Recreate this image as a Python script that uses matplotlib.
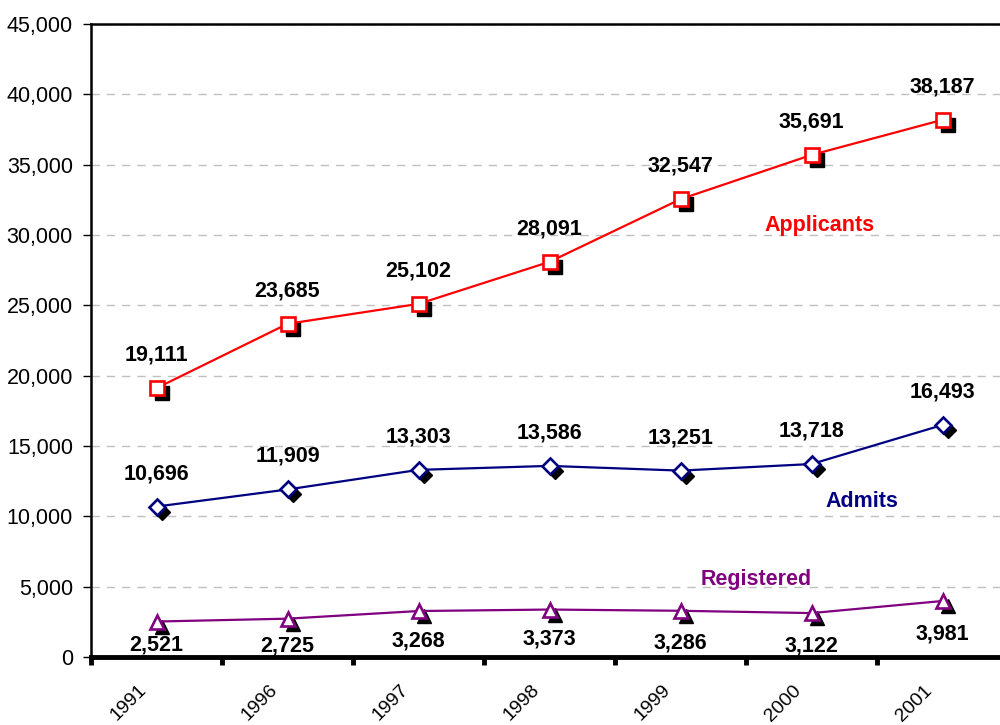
import numpy as np
import matplotlib
matplotlib.use('Agg')
import matplotlib.pyplot as plt
from matplotlib import transforms
from matplotlib.ticker import FuncFormatter, FixedLocator

plt.rcParams['font.family'] = ['Liberation Sans', 'DejaVu Sans']

# ---- data ----
years = ['1991', '1996', '1997', '1998', '1999', '2000', '2001']
applicants = [19111, 23685, 25102, 28091, 32547, 35691, 38187]
admits = [10696, 11909, 13303, 13586, 13251, 13718, 16493]
registered = [2521, 2725, 3268, 3373, 3286, 3122, 3981]

x = np.arange(len(years))
FS = 15.5

fig = plt.figure(figsize=(10, 7.25), dpi=100)
# plot area runs past the right edge, like the original
ax = fig.add_axes([0.091, 68 / 725, 0.917, 633 / 725])

shadow = transforms.offset_copy(ax.transData, fig=fig, x=5, y=-5, units='dots')

# label offsets in pixels (positive = above the point)
above = [33] * len(years)
below = [-23, -27, -30, -29, -32, -33, -33]

series = [
    (applicants, '#FF0000', 's', 10, above),
    (admits, '#000080', 'D', 8, above),
    (registered, '#800080', '^', 10, below),
]

for vals, col, mk, ms, offs in series:
    ax.plot(x, vals, ls='none', marker=mk, ms=ms, mfc='black', mec='black',
            transform=shadow, zorder=3, clip_on=False)
    ax.plot(x, vals, color=col, lw=1.6, marker=mk, ms=ms, mfc='white',
            mec=col, mew=1.9, zorder=4, clip_on=False)
    for xi, v, off in zip(x, vals, offs):
        ax.annotate(f'{v:,}', (xi, v), xytext=(0, off), textcoords='offset pixels',
                    ha='center', va='center', fontsize=FS, fontweight='bold',
                    zorder=5, annotation_clip=False)

# series names
ax.text(5.06, 30640, 'Applicants', color='#FF0000', fontsize=FS,
        fontweight='bold', ha='center', va='center')
ax.text(5.385, 11090, 'Admits', color='#000080', fontsize=FS,
        fontweight='bold', ha='center', va='center')
ax.text(4.576, 5474, 'Registered', color='#800080', fontsize=FS,
        fontweight='bold', ha='center', va='center')

ax.set_xlim(-0.5, len(years) - 0.5)
ax.set_ylim(0, 45000)
ax.set_yticks(np.arange(0, 45001, 5000))
ax.yaxis.set_major_formatter(FuncFormatter(lambda v, p: f'{int(v):,}'))
ax.grid(axis='y', color='#c0c0c0', ls=(0, (6, 5)), lw=1)
ax.set_axisbelow(True)

# category boundaries get the tick marks, labels sit at the centres
ax.xaxis.set_major_locator(FixedLocator(np.arange(-0.5, len(years), 1.0)))
ax.xaxis.set_minor_locator(FixedLocator(x))
ax.set_xticklabels([])
ax.set_xticklabels(years, minor=True, rotation=45, ha='right', va='top',
                   rotation_mode='anchor', fontsize=14)
ax.tick_params(axis='x', which='major', direction='out', length=6, width=3.5,
               color='black')
ax.tick_params(axis='x', which='minor', length=0, pad=12)
ax.tick_params(axis='y', direction='out', length=6, width=1, labelsize=FS,
               pad=7)

shift = transforms.ScaledTranslation(-19 / 100, -8 / 100, fig.dpi_scale_trans)
for lab in ax.get_xticklabels(minor=True):
    lab.set_transform(lab.get_transform() + shift)

for s in ['left', 'top']:
    ax.spines[s].set_linewidth(1.8)
ax.spines['bottom'].set_linewidth(3.5)
ax.spines['right'].set_visible(False)

fig.savefig('out.png', dpi=100, facecolor='white')
